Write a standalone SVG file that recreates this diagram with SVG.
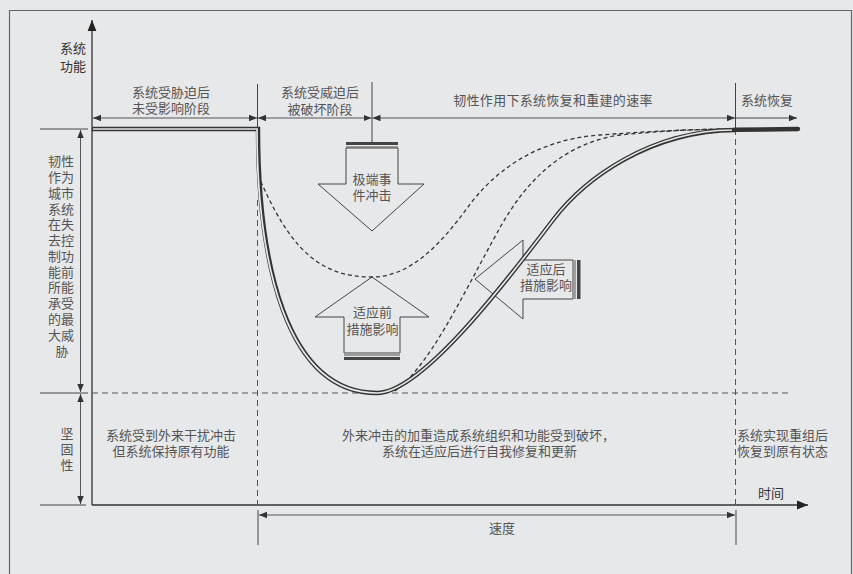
<svg xmlns="http://www.w3.org/2000/svg" width="853" height="574" viewBox="0 0 853 574">
<style>
.t{font-family:"Noto Sans CJK SC","Liberation Sans",sans-serif;font-size:13px;fill:#555;}
.tc{text-anchor:middle;}
.dk{fill:#333;}
.ln{stroke:#444;stroke-width:1;fill:none;}
.dim{stroke:#555;stroke-width:1;fill:none;marker-start:url(#ah);marker-end:url(#ah);}
.dash{stroke:#555;stroke-width:1;fill:none;stroke-dasharray:6,4;}
.cd{stroke:#333;stroke-width:1.3;fill:none;stroke-dasharray:4,3;}
.outer{stroke:#333;stroke-width:4.4;fill:none;}
.inner{stroke:#e7e8ea;stroke-width:1.7;fill:none;}
.arr{stroke:#444;stroke-width:1;fill:none;}
</style>
<defs>
<marker id="ah" viewBox="0 0 10 10" refX="10" refY="5" markerWidth="8" markerHeight="8" markerUnits="userSpaceOnUse" orient="auto-start-reverse"><path d="M0,1 L10,5 L0,9 z" fill="#333"/></marker>
<marker id="ax" viewBox="0 0 10 10" refX="10" refY="5" markerWidth="11" markerHeight="11" markerUnits="userSpaceOnUse" orient="auto"><path d="M0,1 L10,5 L0,9 z" fill="#222"/></marker>
</defs>
<rect x="0" y="0" width="853" height="574" fill="#e7e8ea"/>
<path d="M9.5,580 L9.5,10.5 L851.5,10.5 L851.5,580" fill="none" stroke="#666" stroke-width="1.2"/>

<g id="connectors">
<line x1="92" y1="505" x2="92" y2="20" stroke="#333" stroke-width="1.3" marker-end="url(#ax)"/>
<line x1="92" y1="505" x2="808" y2="505" stroke="#333" stroke-width="1.5" marker-end="url(#ax)"/>
<line class="ln" x1="40" y1="129" x2="88" y2="129" stroke="#777"/>
<line class="ln" x1="40" y1="393" x2="88" y2="393" stroke="#777"/>
<line class="ln" x1="40" y1="505" x2="86" y2="505" stroke="#777"/>
<line class="dim" x1="80.5" y1="130" x2="80.5" y2="392"/>
<line class="dim" x1="80.5" y1="394" x2="80.5" y2="504"/>
<line class="ln" x1="257.5" y1="84" x2="257.5" y2="129"/>
<line class="ln" x1="372" y1="82" x2="372" y2="143"/>
<line class="ln" x1="735.5" y1="83" x2="735.5" y2="129"/>
<line class="dim" x1="93" y1="118" x2="257" y2="118"/>
<line class="dim" x1="258" y1="118" x2="371.5" y2="118"/>
<line class="dim" x1="372.5" y1="118" x2="735" y2="118"/>
<line class="ln" x1="736" y1="118" x2="797" y2="118" stroke="#555" marker-end="url(#ah)"/>
<line class="dash" x1="92" y1="393" x2="792" y2="393"/>
<line class="dash" x1="257.5" y1="200" x2="257.5" y2="505"/>
<line class="dash" x1="735.5" y1="129" x2="735.5" y2="505"/>
<line class="dim" x1="259" y1="515" x2="735" y2="515"/>
<line class="ln" x1="258" y1="510" x2="258" y2="545" stroke="#333"/>
<line class="ln" x1="736" y1="510" x2="736" y2="545" stroke="#222" stroke-width="1.5"/>
</g>

<g id="event-arrow">
<polygon class="arr" points="346,148 398,148 398,184 424,184 372,231 318,184 346,184" fill="#e7e8ea"/>
<rect x="346" y="142" width="52" height="3" fill="#444"/>
<line x1="346" y1="147" x2="398" y2="147" stroke="#555" stroke-width="1"/>
<text class="t tc" x="372" y="184">极端事</text>
<text class="t tc" x="372" y="200">件冲击</text>
</g>

<g id="pre-arrow">
<polygon class="arr" points="372,277 429,317 400,317 400,353 344,353 344,317 315,317" fill="#e7e8ea"/>
<line x1="344" y1="355" x2="400" y2="355" stroke="#555" stroke-width="1"/>
<rect x="344" y="357" width="56" height="3" fill="#444"/>
<text class="t tc" x="372.5" y="317">适应前</text>
<text class="t tc" x="372.5" y="334">措施影响</text>
</g>

<g id="post-arrow">
<polygon class="arr" points="475,279 523,240 523,260 573,260 573,299 523,299 523,319"/>
<line x1="575" y1="260" x2="575" y2="299" stroke="#555" stroke-width="1"/>
<rect x="577" y="260" width="3.5" height="39" fill="#444"/>
<text class="t tc" x="546" y="274">适应后</text>
<text class="t tc" x="546" y="290">措施影响</text>
</g>

<g id="curves">
<path class="cd" d="M258,175 C290,250 320,277 372,277 C410,277 440,245 468,207 C490,177 530,140 600,135 C650,131 700,129 735,129"/>
<path class="cd" d="M395,391 C430,365 460,300 497,233 C515,200 550,145 620,135 C660,131 700,129 735,129"/>
<path class="outer" d="M92,129 L258,129 C258,260 285,393 377,393 C420,393 500,290 553,220 C585,178 650,131 735,130"/>
<path class="inner" d="M93,129 L257,129 C257,260 285,393 377,393 C420,393 500,290 553,220 C585,178 650,131 732,130"/>
<line x1="735" y1="129.8" x2="798" y2="129" stroke="#333" stroke-width="4.4" stroke-linecap="round"/>
</g>

<g id="labels">
<text class="t dk" x="86" y="53" text-anchor="end">系统</text>
<text class="t dk" x="86" y="71" text-anchor="end">功能</text>
<text class="t tc" x="171" y="97">系统受胁迫后</text>
<text class="t tc" x="171" y="113">未受影响阶段</text>
<text class="t tc" x="320" y="97">系统受威迫后</text>
<text class="t tc" x="320" y="114">被破坏阶段</text>
<text class="t tc" x="553" y="105" letter-spacing="0.3">韧性作用下系统恢复和重建的速率</text>
<text class="t" x="741" y="105" font-size="14">系统恢复</text>
<text class="t tc" font-size="13.5"><tspan x="61" y="166">韧性</tspan><tspan x="61" y="182">作为</tspan><tspan x="61" y="198">城市</tspan><tspan x="61" y="214">系统</tspan><tspan x="61" y="229">在失</tspan><tspan x="61" y="245">去控</tspan><tspan x="61" y="261">制功</tspan><tspan x="61" y="277">能前</tspan><tspan x="61" y="292">所能</tspan><tspan x="61" y="308">承受</tspan><tspan x="61" y="324">的最</tspan><tspan x="61" y="340">大威</tspan><tspan x="62" y="356">胁</tspan></text>
<text class="t tc" font-size="13.5"><tspan x="67" y="438">坚</tspan><tspan x="67" y="454">固</tspan><tspan x="67" y="470">性</tspan></text>
<text class="t tc" x="171" y="440">系统受到外来干扰冲击</text>
<text class="t tc" x="171" y="456">但系统保持原有功能</text>
<text class="t" x="342" y="440">外来冲击的加重造成系统组织和功能受到破坏，</text>
<text class="t" x="382" y="456">系统在适应后进行自我修复和更新</text>
<text class="t" x="737" y="440">系统实现重组后</text>
<text class="t" x="737" y="456">恢复到原有状态</text>
<text class="t tc dk" x="771" y="498">时间</text>
<text class="t tc" x="502" y="533">速度</text>
</g>
</svg>
